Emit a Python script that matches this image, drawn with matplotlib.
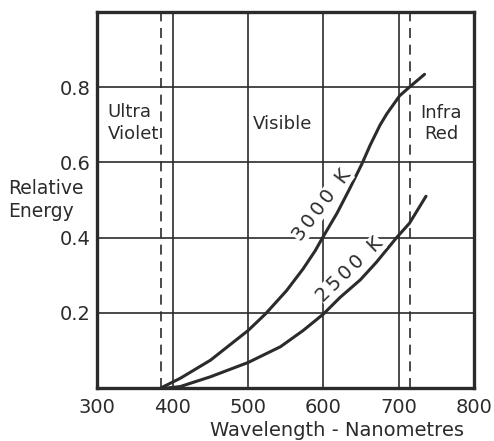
import matplotlib
matplotlib.use("Agg")
import matplotlib.pyplot as plt

# Data
x_3000 = [384, 410, 450, 500, 523, 551, 573, 589, 598, 618, 635, 651, 662, 675, 684, 701, 714, 734]
y_3000 = [0.0, 0.026, 0.074, 0.153, 0.197, 0.259, 0.317, 0.365, 0.397, 0.465, 0.531, 0.596,
          0.646, 0.699, 0.729, 0.777, 0.8, 0.834]
x_2500 = [392, 410, 450, 500, 543, 573, 600, 622, 649, 670, 697, 714, 736]
y_2500 = [0.0, 0.004, 0.03, 0.068, 0.11, 0.153, 0.197, 0.241, 0.288, 0.334, 0.4, 0.438, 0.51]
x_ticks = [300, 400, 500, 600, 700, 800]
y_ticks = [0.2, 0.4, 0.6, 0.8]
y_tick_labels = ["0.2", "0.4", "0.6", "0.8"]
uv_limit = 385
ir_limit = 715
label_3000 = "3000 K"
label_2500 = "2500 K"

ink = "#2b2b2b"
plt.rcParams['font.family'] = ['DejaVu Sans']


def spaced(s, gap="\u2006"):
    return gap.join(s)


fig = plt.figure(figsize=(4.94, 4.41), dpi=100)
ax = fig.add_axes([0.197, 0.120, 0.763, 0.853])
ax.set_xlim(300, 800)
ax.set_ylim(0, 1.0)

# grid
for xv in x_ticks[1:-1]:
    ax.axvline(xv, color=ink, lw=1.2, zorder=1)
for yv in y_ticks:
    ax.axhline(yv, color=ink, lw=1.2, zorder=1)

# dashed boundary lines
ax.axvline(uv_limit, color=ink, lw=1.2, ls=(0, (6, 4)), zorder=1)
ax.axvline(ir_limit, color=ink, lw=1.2, ls=(0, (6, 4)), zorder=1)

# curves
ax.plot(x_3000, y_3000, color=ink, lw=2.2, zorder=3, solid_capstyle='round',
        solid_joinstyle='round')
ax.plot(x_2500, y_2500, color=ink, lw=2.2, zorder=3, solid_capstyle='round',
        solid_joinstyle='round')

ax.set_xticks(x_ticks)
ax.set_xticklabels([str(v) for v in x_ticks])
ax.set_yticks(y_ticks)
ax.set_yticklabels(y_tick_labels)
ax.tick_params(length=0, labelsize=14, colors=ink)
ax.tick_params(axis='x', pad=7)
ax.tick_params(axis='y', pad=5)

for s in ax.spines.values():
    s.set_linewidth(2.4)
    s.set_color(ink)

tk = dict(color=ink, fontsize=13)
ax.text(314, 0.705, "Ultra\nViolet", ha='left', va='center', linespacing=1.25, **tk)
ax.text(546, 0.703, "Visible", ha='center', va='center', **tk)
ax.text(756, 0.703, "Infra\nRed", ha='center', va='center', linespacing=1.25,
        bbox=dict(facecolor='white', edgecolor='none', pad=0.5), zorder=4, **tk)
ax.text(598, 0.487, spaced(label_3000), ha='center', va='center', rotation=53,
        rotation_mode='anchor',
        bbox=dict(facecolor='white', edgecolor='none', pad=0.1), zorder=4,
        color=ink, fontsize=14)
ax.text(635, 0.315, spaced(label_2500), ha='center', va='center', rotation=44,
        rotation_mode='anchor',
        bbox=dict(facecolor='white', edgecolor='none', pad=0.1), zorder=4,
        color=ink, fontsize=14)

fig.text(8 / 494, 1 - 200 / 441, "Relative\nEnergy", ha='left', va='center',
         linespacing=1.25, color=ink, fontsize=13.5)
fig.text(337 / 494, 1 - 430 / 441, "Wavelength - Nanometres", ha='center', va='center',
         color=ink, fontsize=14)

fig.savefig("out.png", dpi=100, facecolor='white')
